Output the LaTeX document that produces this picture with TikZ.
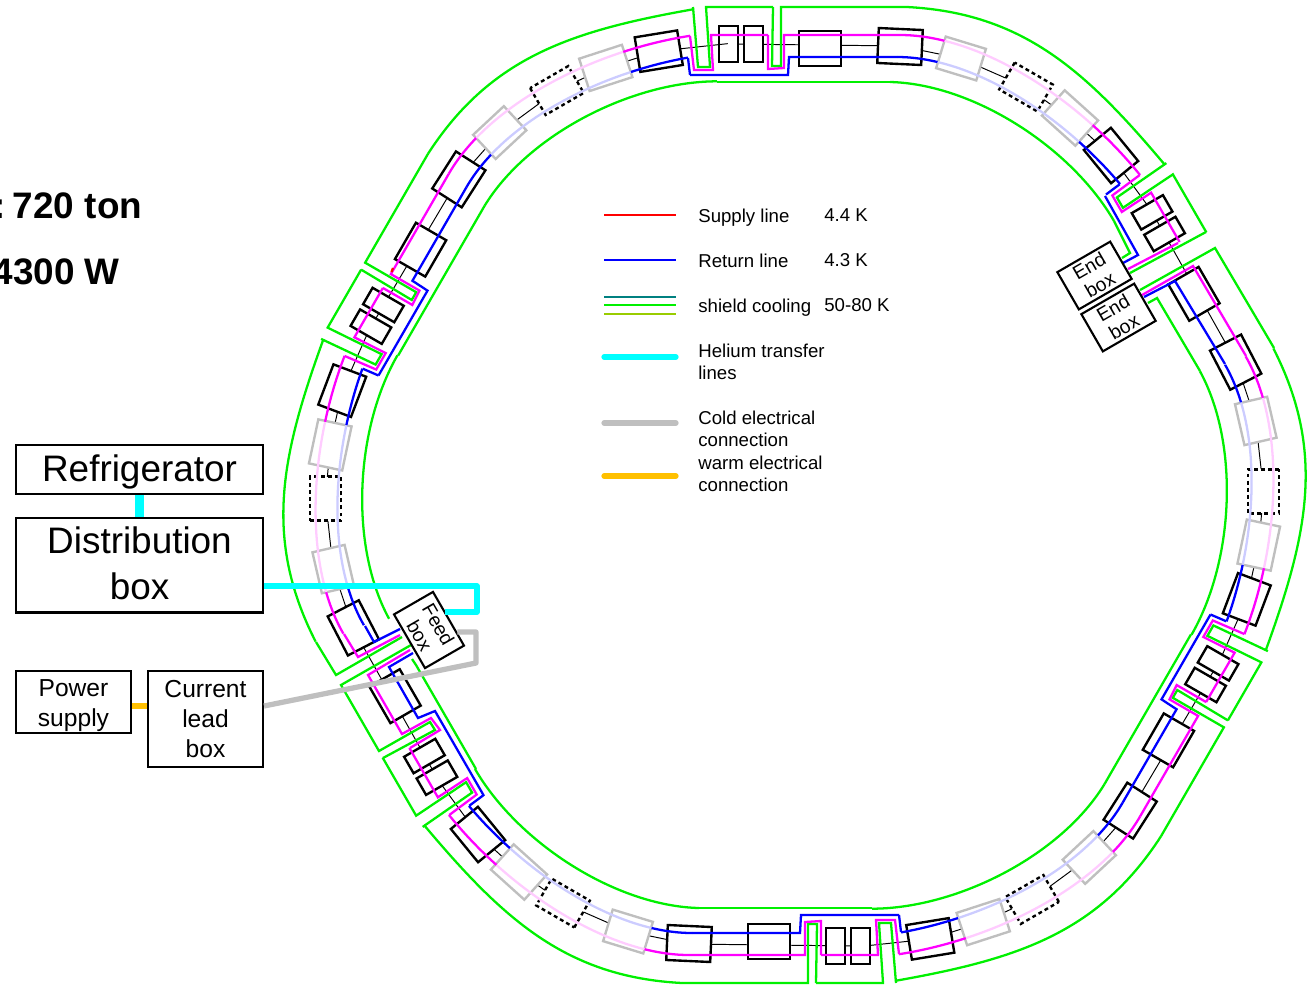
\documentclass[tikz,border=0pt]{standalone}
\usepackage{fontspec}
\setmainfont{Liberation Sans}
\usepackage{xcolor}
\usetikzlibrary{calc}
\definecolor{heliumcyan}{RGB}{0,255,255}
\definecolor{wirebrown}{RGB}{255,192,0}
\definecolor{shieldteal}{RGB}{0,128,128}
\definecolor{shieldlime}{RGB}{153,204,0}
\definecolor{shieldgreen}{RGB}{0,240,0}
\definecolor{linemagenta}{RGB}{255,0,255}
\definecolor{lineblue}{RGB}{0,0,255}
\definecolor{linered}{RGB}{255,0,0}
\tikzset{
  thinline/.style={black,line width=0.55pt},
  magnetbox/.style={draw=black,fill=white,line width=1.35pt},
  warmbox/.style={draw=black!25,fill=white,line width=1.35pt},
  sparebox/.style={draw=black,fill=white,line width=1.35pt,dash pattern=on 2.2pt off 1.8pt},
  shieldline/.style={shieldgreen,line width=1.3pt},
  supplyline/.style={linemagenta,line width=1.3pt},
  returnline/.style={lineblue,line width=1.3pt},
  palesupply/.style={linemagenta!20,line width=1.3pt},
  palereturn/.style={lineblue!20,line width=1.3pt},
  heliumline/.style={heliumcyan,line width=3pt,line join=round},
  coldline/.style={black!25,line width=3pt,line join=round},
  warmline/.style={wirebrown,line width=3pt},
  legendtext/.style={font=\fontsize{10.6}{12.5}\selectfont,align=left,inner sep=0pt},
  ringbox/.style={draw,fill=white,line width=1.2pt,inner sep=0pt,align=center,minimum width=1.22cm,minimum height=0.86cm,font=\fontsize{11}{12.4}\selectfont},
  bigbox/.style={draw,line width=1.15pt,inner sep=0pt,align=center,font=\fontsize{21}{26}\selectfont},
  smallbox/.style={draw,line width=1.15pt,inner sep=0pt,align=center,font=\fontsize{14}{17}\selectfont},
  heading/.style={font=\fontsize{21}{25}\selectfont\bfseries,inner sep=0pt,anchor=base east}
}
\newcommand{\supplyarc}{(900,35) .. controls (980,35) and (1078,98) .. (1140,175)}
\newcommand{\returnarc}{(897,57) .. controls (972,57) and (1061,114) .. (1120,184)}
\begin{document}
\begin{tikzpicture}[x=0.02cm,y=-0.02cm]
\useasboundingbox (0,0) rectangle (1307,984);

% thin line and boxes of the six sectors
\foreach \ang in {0,60,...,300} {
\begin{scope}[rotate around={-\ang:(794.5,495)}]
\draw[thinline] (728,44) -- (820,45) -- (900,46) -- (961,58.5) -- (1026,87) -- (1070,118) -- (1111,155.5) -- (1152,211.5);
\foreach \mx/\my/\mrot/\mw/\mh in {961/58.5/17/21/16.5,1070/118/42/22.5/17}
  \draw[warmbox,shift={(\mx,\my)},rotate=-\mrot] (-\mw,-\mh) rectangle (\mw,\mh);
\draw[sparebox,shift={(1026,87)},rotate=-30] (-22,-15.5) rectangle (22,15.5);
\foreach \mx/\my/\mrot/\mw/\mh in {820/48.5/0/21/17.5,900/46.5/2.6/22/17.5,1111/155.5/50.7/21.5/17.5,728.5/44/0/9.5/18,753.5/44/0/9.5/18}
  \draw[magnetbox,shift={(\mx,\my)},rotate=-\mrot] (-\mw,-\mh) rectangle (\mw,\mh);
\end{scope}
}

% lines common to every sector
\foreach \ang in {0,60,...,300} {
\begin{scope}[rotate around={-\ang:(794.5,495)}]
\draw[shieldline] (693,7) -- (698,67) -- (710,67) -- (706,7) -- (773,7);
\draw[shieldline] (907,7) .. controls (1023,13) and (1086,71) .. (1165,165);
\draw[shieldline] (890,82) .. controls (973,84) and (1071,147) .. (1114,221);
\draw[supplyline] (690,36) -- (694,70) -- (713,70) -- (711,35) -- (768,35);
\draw[returnline] (688,58) -- (690,75);
\begin{scope}
\clip (795,495) -- (970,-37) -- (1145,60) -- cycle;
\draw[palesupply] \supplyarc;
\draw[palereturn] \returnarc;
\end{scope}
\begin{scope}
\clip (795,495) -- (795,-50) -- (970,-37) -- cycle (795,495) -- (1145,60) -- (1300,250) -- cycle;
\draw[supplyline] \supplyarc;
\draw[returnline] \returnarc;
\end{scope}
\end{scope}
}

% second dip, not at the two boxes
\foreach \ang in {0,120,180,300} {
\begin{scope}[rotate around={-\ang:(794.5,495)}]
\draw[shieldline] (773,7) -- (772,66) -- (781,66) -- (781,7) -- (907,7);
\draw[shieldline] (717,82) -- (890,82);
\draw[supplyline] (768,35) -- (768,69) -- (784,68) -- (784,35) -- (900,35);
\draw[returnline] (690,75) -- (788,75) -- (789,57) -- (897,57);
\end{scope}
}
\draw[linered,line width=1.3pt] (391.5,272) -- (393,268);

% around the end boxes
\draw[shieldline] (1206,232) -- (1130,273);
\draw[shieldline] (1140,290) -- (1215,248) -- (1274,348);
\draw[shieldline] (1114,221) -- (1130,253) -- (1122,258);
\draw[shieldline] (1148,303) -- (1157,298) -- (1200,371);
\draw[supplyline] (1178,243) -- (1128,269);
\draw[supplyline] (1142,295) -- (1193,266) -- (1246,356);
\draw[returnline] (1105,196) -- (1138,255) -- (1123,263);
\draw[returnline] (1144,297) -- (1175,281) -- (1225,364);

% around the feed box
\draw[shieldline] (383,758) -- (435,730) -- (430,722) -- (379,751) -- (341,685) -- (411,645);
\draw[shieldline] (402,637) -- (336,675) -- (316,642);
\draw[shieldline] (476,769) -- (416,665) -- (412,659);
\draw[supplyline] (410,748) -- (440,730) -- (431,718) -- (402,734) -- (368,675) -- (410,650);
\draw[supplyline] (400,635) -- (358,657) -- (344,634);
\draw[returnline] (484,796) -- (435,711) -- (418,718) -- (389,667) -- (413,653);
\draw[returnline] (400,629) -- (374,642) -- (365,626);

\node[ringbox,rotate=30] (endtop) at (1094.5,275.5) {End\\box};
\node[ringbox,rotate=30] (endlow) at (1118.5,317.5) {End\\box};
\node[ringbox,rotate=-60,minimum width=1.24cm,minimum height=0.9cm] (feed) at (429,630) {Feed\\box};

\node[heading] (mass) at (142.5,218) {:\kern-1.6pt\ 720 ton};
\node[heading] (load) at (120,284) {4300 W};

\node[bigbox,minimum width=4.94cm,minimum height=0.98cm,text height=17.6pt] (refrig) at (139.5,469.5) {Refrigerator};
\node[bigbox,minimum width=4.94cm,minimum height=1.9cm,text depth=2.3pt] (distrib) at (139.5,565) {Distribution\\box};
\node[smallbox,minimum width=2.3cm,minimum height=1.24cm,text height=30.4pt] (power) at (73.5,702) {Power\\supply};
\node[smallbox,minimum width=2.3cm,minimum height=1.92cm] (current) at (205.5,719) {Current\\lead\\box};

\coordinate (heA) at (477,586);
\coordinate (heB) at (477,612);
\coordinate (coldA) at (476,663);
\coordinate (coldB) at (476,632);
\coordinate (warm) at (139,706);
\draw[heliumline,line width=5.4pt] (refrig) -- (distrib);
\draw[heliumline] (distrib.east |- heA) -- (heA) -- (heB) -- (heB -| feed.109);
\draw[coldline] (current.east |- warm) -- (coldA) -- (coldB) -- (coldB -| feed.56);
\draw[warmline] (power.east |- warm) -- (current.west |- warm);

% legend
\draw[linered,line width=1.15pt] (604,215) -- (676,215);
\draw[lineblue,line width=1.15pt] (604,260) -- (676,260);
\draw[shieldteal,line width=1.15pt] (604,297) -- (676,297);
\draw[shieldgreen,line width=1.15pt] (604,305) -- (676,305);
\draw[shieldlime,line width=1.15pt] (604,314) -- (676,314);
\draw[heliumline,line cap=round] (604,357) -- (676,357);
\draw[coldline,line cap=round] (604,423) -- (676,423);
\draw[warmline,line cap=round] (604,476) -- (676,476);
\node[legendtext,anchor=base west] (supply) at (698,222) {Supply line};
\node[legendtext,anchor=base west] (supplyt) at (824,221) {4.4 K};
\node[legendtext,anchor=base west] (return) at (698,267) {Return line};
\node[legendtext,anchor=base west] (returnt) at (824,266) {4.3 K};
\node[legendtext,anchor=base west] (shield) at (698,312) {shield cooling};
\node[legendtext,anchor=base west] (shieldt) at (824,311) {50-80 K};
\node[legendtext,anchor=west] (helium) at (698,362) {Helium transfer\\lines};
\node[legendtext,anchor=west] (cold) at (698,429) {Cold electrical\\connection};
\node[legendtext,anchor=west] (warmtext) at (698,474) {warm electrical\\connection};

\end{tikzpicture}
\end{document}
